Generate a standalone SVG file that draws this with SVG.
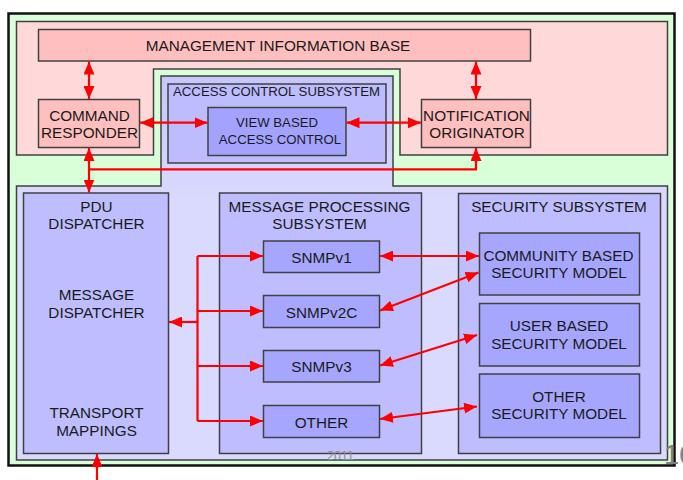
<svg xmlns="http://www.w3.org/2000/svg" width="683" height="480" viewBox="0 0 683 480">
  <defs>
    <marker id="head" viewBox="0 0 13 11" refX="13" refY="5.5" markerWidth="13" markerHeight="11" markerUnits="userSpaceOnUse" orient="auto-start-reverse">
      <path d="M0,0 L13,5.5 L0,11 Z" fill="#ff0000"/>
    </marker>
    <linearGradient id="lav" x1="0" y1="76" x2="0" y2="200" gradientUnits="userSpaceOnUse">
      <stop offset="0" stop-color="#c6c6fb"/>
      <stop offset="1" stop-color="#dadaff"/>
    </linearGradient>
  </defs>
  <style>
    text { font-family: "Liberation Sans", Arial, sans-serif; font-size: 15.3px; fill: #1a1a1a; text-anchor: middle; }
    text.sm { font-size: 13.2px; }
    .box { stroke: #404040; stroke-width: 1.5; }
    .pink { fill: #ffbfbf; }
    .mid { fill: #bdbdff; }
    .dark { fill: #a6a6ff; }
    .link { fill: none; stroke: #ff0000; stroke-width: 2.2; }
    .bi { marker-start: url(#head); marker-end: url(#head); }
    .uni { marker-end: url(#head); }
  </style>

  <!-- outer frame -->
  <rect x="8.5" y="13.5" width="666" height="452" fill="#d9ffd9" stroke="#111" stroke-width="2.5"/>
  <!-- agent application region -->
  <path class="box" d="M16.5,21.5 H667.5 V155 H400 V69 H153.5 V155 H16.5 Z" fill="#ffd9d9"/>
  <!-- SNMP engine region -->
  <path class="box" d="M16.5,186 H161 V76 H393 V186 H667.5 V460 H16.5 Z" fill="url(#lav)"/>

  <g id="mib">
    <rect class="box pink" x="38.5" y="29.5" width="492" height="31.5"/>
    <text x="278" y="50.7">MANAGEMENT INFORMATION BASE</text>
  </g>
  <g id="command-responder">
    <rect class="box pink" x="38.5" y="99.5" width="101" height="48"/>
    <text x="89.5" y="120.7">COMMAND</text>
    <text x="89.5" y="138">RESPONDER</text>
  </g>
  <g id="notification-originator">
    <rect class="box pink" x="421.5" y="99.5" width="109" height="48"/>
    <text x="476.5" y="120.7">NOTIFICATION</text>
    <text x="477" y="138">ORIGINATOR</text>
  </g>
  <g id="access-control-subsystem">
    <rect class="box" x="168" y="84" width="218" height="79" fill="#bcbcff"/>
    <text class="sm" x="276.5" y="95.7">ACCESS CONTROL SUBSYSTEM</text>
  </g>
  <g id="view-based-access-control">
    <rect class="box" x="208" y="107.5" width="138" height="48" fill="#a3a3ff"/>
    <text class="sm" x="277" y="126.7">VIEW BASED</text>
    <text class="sm" x="280" y="144">ACCESS CONTROL</text>
  </g>
  <g id="pdu-dispatcher">
    <rect class="box mid" x="23.5" y="193" width="145" height="260.5"/>
    <text x="96.5" y="212.3">PDU</text>
    <text x="96.5" y="229.3">DISPATCHER</text>
    <text x="96.5" y="300">MESSAGE</text>
    <text x="96.5" y="318.3">DISPATCHER</text>
    <text x="96.5" y="418.3">TRANSPORT</text>
    <text x="96.5" y="436">MAPPINGS</text>
  </g>
  <g id="message-processing-subsystem">
    <rect class="box mid" x="219.5" y="193" width="202" height="260.5"/>
    <text x="319.5" y="211.7">MESSAGE PROCESSING</text>
    <text x="319.5" y="229.3">SUBSYSTEM</text>
  </g>
  <g id="snmpv1">
    <rect class="box dark" x="263.5" y="241" width="116" height="31.5"/>
    <text x="321.5" y="262.7">SNMPv1</text>
  </g>
  <g id="snmpv2c">
    <rect class="box dark" x="263.5" y="295.5" width="116" height="32"/>
    <text x="321.5" y="317.7">SNMPv2C</text>
  </g>
  <g id="snmpv3">
    <rect class="box dark" x="263.5" y="350.5" width="116" height="31.5"/>
    <text x="321.5" y="372.3">SNMPv3</text>
  </g>
  <g id="other-mp">
    <rect class="box dark" x="263.5" y="405.5" width="116" height="32"/>
    <text x="321.5" y="428.3">OTHER</text>
  </g>
  <g id="security-subsystem">
    <rect class="box mid" x="458.5" y="193.5" width="202" height="260"/>
    <text x="559" y="211.7">SECURITY SUBSYSTEM</text>
  </g>
  <g id="community-based-security-model">
    <rect class="box dark" x="479.5" y="233" width="160" height="62"/>
    <text x="558.5" y="261">COMMUNITY BASED</text>
    <text x="559" y="278.3">SECURITY MODEL</text>
  </g>
  <g id="user-based-security-model">
    <rect class="box dark" x="479.5" y="303.5" width="160" height="62.5"/>
    <text x="559" y="330.7">USER BASED</text>
    <text x="559" y="349.3">SECURITY MODEL</text>
  </g>
  <g id="other-security-model">
    <rect class="box dark" x="479.5" y="374" width="160" height="63.5"/>
    <text x="559" y="402.3">OTHER</text>
    <text x="559" y="419.3">SECURITY MODEL</text>
  </g>

  <g id="connectors">
    <path class="link bi" d="M89,61.5 V99"/>
    <path class="link bi" d="M476,61.5 V99"/>
    <path class="link bi" d="M140,122.7 H207.5"/>
    <path class="link bi" d="M346.5,122.7 H421"/>
    <path class="link bi" d="M89,148 V169.3 H476 V148"/>
    <path class="link uni" d="M89,169.3 V192.5"/>
    <path class="link uni" d="M97,480 V454"/>
    <path class="link" d="M197.5,256 V421"/>
    <path class="link uni" d="M197.5,256 H263"/>
    <path class="link uni" d="M197.5,311 H263"/>
    <path class="link uni" d="M197.5,366 H263"/>
    <path class="link uni" d="M197.5,421 H263"/>
    <path class="link uni" d="M197.5,322 H169"/>
    <path class="link bi" d="M380,256 H479"/>
    <path class="link bi" d="M380,310.5 L478.5,272.5"/>
    <path class="link bi" d="M380,365.5 L477,335"/>
    <path class="link bi" d="M380,419 L477,406.5"/>
  </g>

  <text x="340.5" y="460" style="font-size:12.5px;fill:#8c8c8c">2011</text>
  <text x="664" y="464" style="font-size:27px;fill:#808080;text-anchor:start">16</text>
</svg>
